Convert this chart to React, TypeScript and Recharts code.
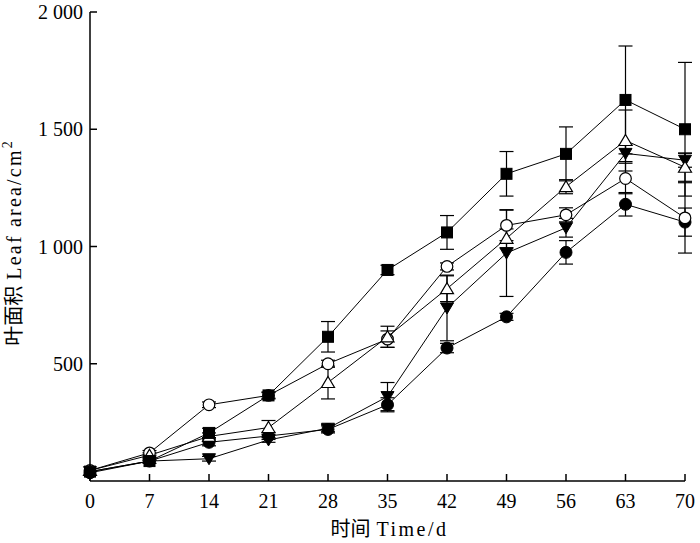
import React from "react";
import { ErrorBar, Label, Line, LineChart, XAxis, YAxis } from "recharts";

// sampling days
const days = [0, 7, 14, 21, 28, 35, 42, 49, 56, 63, 70];

// series values (leaf area, cm2) and their error half-widths
const squareVals = [40, 85, 205, 365, 615, 900, 1060, 1310, 1395, 1625, 1500];
const squareErr = [0, 0, 20, 15, 65, 20, 72, 95, 115, 230, 285];
const openCircleVals = [45, 120, 325, 365, 500, 605, 915, 1090, 1135, 1290, 1122];
const openCircleErr = [0, 10, 12, 12, 15, 35, 15, 65, 30, 65, 150];
const openTriVals = [45, 110, 190, 228, 420, 615, 820, 1035, 1255, 1452, 1338];
const openTriErr = [0, 10, 15, 30, 70, 45, 55, 40, 30, 130, 60];
const invTriVals = [40, 85, 95, 175, 225, 360, 738, 972, 1080, 1397, 1368];
const invTriErr = [0, 0, 10, 10, 15, 60, 140, 185, 40, 35, 30];
const fillCircleVals = [35, 85, 165, 192, 220, 325, 567, 700, 975, 1180, 1104];
const fillCircleErr = [0, 10, 15, 15, 15, 30, 20, 15, 50, 50, 60];

// axis ticks
const xTicks = [0, 7, 14, 21, 28, 35, 42, 49, 56, 63, 70];
const yTicks = [500, 1000, 1500, 2000];

const xTitleCn = "时间";
const xTitleEn = "Time/d";
const yTitleCn = "叶面积";
const yTitleEn = "Leaf area/cm";

const FONT = "'Liberation Serif', 'Times New Roman', 'Noto Sans CJK SC', serif";

const data = days.map((d, i) => ({
	day: d,
	sq: squareVals[i],
	sqErr: squareErr[i],
	oc: openCircleVals[i],
	ocErr: openCircleErr[i],
	ot: openTriVals[i],
	otErr: openTriErr[i],
	it: invTriVals[i],
	itErr: invTriErr[i],
	fc: fillCircleVals[i],
	fcErr: fillCircleErr[i],
}));

const fmtY = (v: number) =>
	v >= 1000 ? `${Math.floor(v / 1000)} ${String(v % 1000).padStart(3, "0")}` : String(v);

const XTick = (props: any) => {
	const { x, y, payload } = props;
	return (
		<g>
			<line x1={x} y1={y} x2={x} y2={y - 7} stroke="#000" strokeWidth={1.5} />
			<text x={x} y={y + 27} textAnchor="middle" fontSize={20} fontFamily={FONT} fill="#000">
				{payload.value}
			</text>
		</g>
	);
};

const YTick = (props: any) => {
	const { x, y, payload } = props;
	return (
		<g>
			<line x1={x} y1={y} x2={x + 7} y2={y} stroke="#000" strokeWidth={1.5} />
			<text x={x - 7} y={y + 7} textAnchor="end" fontSize={20} fontFamily={FONT} fill="#000">
				{fmtY(payload.value)}
			</text>
		</g>
	);
};

const XTitle = (props: any) => {
	const { x, y, width } = props.viewBox;
	return (
		<text x={x + width / 2 + 2} y={y + 55} textAnchor="middle" fontSize={20} fontFamily={FONT} fill="#000">
			<tspan>{xTitleCn}</tspan>
			<tspan dx={6} letterSpacing={2.5}>{xTitleEn}</tspan>
		</text>
	);
};

const YTitle = (props: any) => {
	const { y, height } = props.viewBox;
	const cx = 21;
	const cy = y + height / 2 - 3;
	return (
		<text
			x={cx}
			y={cy}
			transform={`rotate(-90 ${cx} ${cy})`}
			textAnchor="middle"
			fontSize={20}
			fontFamily={FONT}
			fill="#000"
		>
			<tspan>{yTitleCn}</tspan>
			<tspan dx={6} letterSpacing={2.2}>{yTitleEn}</tspan>
			<tspan fontSize={14} dy={-9}>2</tspan>
		</text>
	);
};

const square = (p: any) => (
	<rect key={`sq${p.index}`} x={p.cx - 5.5} y={p.cy - 5.5} width={11} height={11} fill="#000" stroke="#000" />
);
const openCircle = (p: any) => (
	<circle key={`oc${p.index}`} cx={p.cx} cy={p.cy} r={5.8} fill="#fff" stroke="#000" strokeWidth={1.2} />
);
const fillCircle = (p: any) => (
	<circle key={`fc${p.index}`} cx={p.cx} cy={p.cy} r={6} fill="#000" stroke="#000" />
);
const openTri = (p: any) => (
	<path
		key={`ot${p.index}`}
		d={`M${p.cx},${p.cy - 6} L${p.cx + 6.5},${p.cy + 5} L${p.cx - 6.5},${p.cy + 5} Z`}
		fill="#fff"
		stroke="#000"
		strokeWidth={1.2}
	/>
);
const invTri = (p: any) => (
	<path
		key={`it${p.index}`}
		d={`M${p.cx - 6.5},${p.cy - 5} L${p.cx + 6.5},${p.cy - 5} L${p.cx},${p.cy + 6} Z`}
		fill="#000"
		stroke="#000"
	/>
);

const series = [
	{ key: "fc", err: "fcErr", dot: fillCircle },
	{ key: "it", err: "itErr", dot: invTri },
	{ key: "oc", err: "ocErr", dot: openCircle },
	{ key: "ot", err: "otErr", dot: openTri },
	{ key: "sq", err: "sqErr", dot: square },
];

export default function App() {
	return (
		<div style={{ position: "absolute", left: 0, top: 0, background: "#fff" }}>
			<LineChart width={700} height={543} data={data} margin={{ top: 12, right: 15, bottom: 0, left: 0 }}>
				<XAxis
					dataKey="day"
					type="number"
					domain={[0, 70]}
					ticks={xTicks}
					height={62}
					tickSize={0}
					tickMargin={0}
					tickLine={false}
					tick={<XTick />}
					axisLine={{ stroke: "#000", strokeWidth: 1.5 }}
					interval={0}
				>
					<Label content={<XTitle />} />
				</XAxis>
				<YAxis
					type="number"
					domain={[0, 2000]}
					ticks={yTicks}
					width={90}
					tickSize={0}
					tickMargin={0}
					tickLine={false}
					tick={<YTick />}
					axisLine={{ stroke: "#000", strokeWidth: 1.5 }}
					interval={0}
				>
					<Label content={<YTitle />} />
				</YAxis>
				{series.map((s) => (
					<Line
						key={s.key}
						dataKey={s.key}
						type="linear"
						stroke="#000"
						strokeWidth={1}
						dot={s.dot}
						activeDot={false}
						isAnimationActive={false}
						legendType="none"
					>
						<ErrorBar dataKey={s.err} direction="y" width={7} stroke="#000" strokeWidth={1.2} />
					</Line>
				))}
			</LineChart>
		</div>
	);
}
